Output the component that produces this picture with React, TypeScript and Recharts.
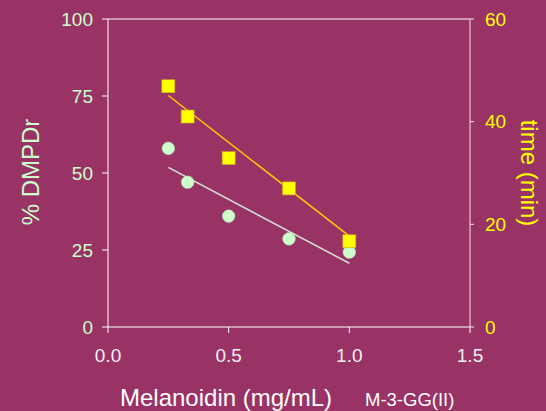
import {
  ComposedChart,
  Scatter,
  Line,
  XAxis,
  YAxis,
  ReferenceLine,
} from 'recharts';

// melanoidin concentration (mg/mL)
const conc = [0.25, 0.33, 0.5, 0.75, 1.0];
// % DMPDr (left axis)
const dmpdr = [58, 47, 36, 28.6, 24.3];
// time in minutes (right axis)
const time = [46.9, 41.0, 32.9, 27.0, 16.7];

// fitted trend lines, ends only
const fitConc = [0.25, 1.0];
const dmpdrFit = [51.8, 20.7];
const timeFit = [45.1, 17.7];

const xTicks = [0, 0.5, 1, 1.5];
const leftTicks = [0, 25, 50, 75, 100];
const rightTicks = [0, 20, 40, 60];

const pctData = conc.map((x, i) => ({ x, y: dmpdr[i] }));
const timeData = conc.map((x, i) => ({ x, y: time[i] }));
const pctFitData = fitConc.map((x, i) => ({ x, y: dmpdrFit[i] }));
const timeFitData = fitConc.map((x, i) => ({ x, y: timeFit[i] }));

const BG = '#993366';
const GREEN = '#CCFFCC';
const YELLOW = '#FFFF00';
const FONT = '"Liberation Sans", Arial, sans-serif';

const Square = (props: any) => {
  const { cx, cy } = props;
  if (cx == null || cy == null) return null;
  return (
    <rect
      x={cx - 6.5}
      y={cy - 6.5}
      width={13}
      height={13}
      fill={YELLOW}
      stroke="#D4A020"
      strokeWidth={0.6}
    />
  );
};

const Dot = (props: any) => {
  const { cx, cy } = props;
  if (cx == null || cy == null) return null;
  return <circle cx={cx} cy={cy} r={6.3} fill={GREEN} stroke="#B8E0B8" strokeWidth={0.5} />;
};

export default function App() {
  return (
    <div
      style={{
        position: 'absolute',
        left: 0,
        top: 0,
        width: 546,
        height: 411,
        background: BG,
        fontFamily: FONT,
      }}
    >
      <ComposedChart
        width={546}
        height={411}
        margin={{ top: 19, right: 0, bottom: 0, left: 0 }}
      >
        <XAxis
          dataKey="x"
          type="number"
          domain={[0, 1.5]}
          ticks={xTicks}
          tickFormatter={(v) => v.toFixed(1)}
          stroke="#FFFFFF"
          tick={{ fill: '#F0F0F0', fontSize: 19, fontFamily: FONT }}
          tickSize={6}
          tickMargin={16}
          height={84}
          label={{
            content: () => (
              <g>
                <text x={120} y={406} fill="#FFFFFF" fontSize={24} fontFamily={FONT}>
                  Melanoidin (mg/mL)
                </text>
                <text x={365} y={406} fill="#FFFFFF" fontSize={18.5} fontFamily={FONT}>
                  M-3-GG(II)
                </text>
              </g>
            ),
          }}
        />
        <YAxis
          yAxisId="left"
          type="number"
          domain={[0, 100]}
          ticks={leftTicks}
          stroke="#FFFFFF"
          tick={{ fill: GREEN, fontSize: 19, fontFamily: FONT }}
          tickSize={6}
          tickMargin={9}
          width={108}
          label={{
            content: () => (
              <text
                x={30}
                y={172}
                fill={GREEN}
                fontSize={24}
                fontFamily={FONT}
                textAnchor="middle"
                dominantBaseline="central"
                transform="rotate(-90 30 172)"
              >
                % DMPDr
              </text>
            ),
          }}
        />
        <YAxis
          yAxisId="right"
          orientation="right"
          type="number"
          domain={[0, 60]}
          ticks={rightTicks}
          stroke="#F2E4EC"
          tick={{ fill: YELLOW, fontSize: 19, fontFamily: FONT }}
          tickSize={4}
          tickMargin={11}
          width={76}
          label={{
            content: () => (
              <text
                x={529}
                y={173}
                fill={YELLOW}
                fontSize={24}
                fontFamily={FONT}
                textAnchor="middle"
                dominantBaseline="central"
                transform="rotate(90 529 173)"
              >
                time (min)
              </text>
            ),
          }}
        />
        <ReferenceLine yAxisId="left" y={100} stroke="#FFFFFF" strokeWidth={1} />
        <Line
          yAxisId="left"
          data={pctFitData}
          dataKey="y"
          stroke="#D4E4D4"
          strokeWidth={1.5}
          dot={false}
          activeDot={false}
          isAnimationActive={false}
        />
        <Scatter
          yAxisId="left"
          data={pctData}
          dataKey="y"
          shape={<Dot />}
          isAnimationActive={false}
        />
        <Line
          yAxisId="right"
          data={timeFitData}
          dataKey="y"
          stroke="#FFCC00"
          strokeWidth={1.5}
          dot={false}
          activeDot={false}
          isAnimationActive={false}
        />
        <Scatter
          yAxisId="right"
          data={timeData}
          dataKey="y"
          shape={<Square />}
          isAnimationActive={false}
        />
      </ComposedChart>
    </div>
  );
}
